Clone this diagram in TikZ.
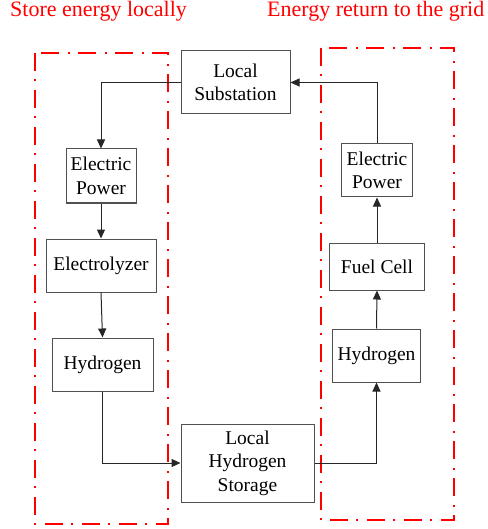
\documentclass[tikz,border=0pt]{standalone}
\usepackage{fontspec}
\setmainfont{Liberation Serif}
\usetikzlibrary{arrows.meta}
\definecolor{boxgray}{HTML}{505050}
\definecolor{zonered}{HTML}{FF0000}
\tikzset{
  blk/.style={draw=boxgray, line width=1pt, fill=white, align=center, inner sep=0pt,
    font=\fontsize{19.5}{23.5}\selectfont},
  arr/.style={draw=black!85, line width=1pt, -{Triangle[length=9pt,width=8pt]}},
  zone/.style={draw=zonered, line width=2.4pt, dash pattern=on 18pt off 8pt on 2pt off 9pt},
  ttl/.style={text=zonered, anchor=base west, inner sep=0pt, font=\fontsize{22}{26}\selectfont}
}
\begin{document}
\begin{tikzpicture}[x=1pt,y=-1pt]
\useasboundingbox (0,0) rectangle (487,529);
% zones
\draw[zone] (35,53) rectangle (168,524);
\draw[zone] (321,48) rectangle (454,520);
% titles
\node[ttl] (t1) at (10,17) {Store energy locally};
\node[ttl] (t2) at (267,17) {Energy return to the grid};
% boxes
\node[blk, minimum width=109pt, minimum height=63pt] (sub) at (235.5,82.5) {Local\\Substation};
\node[blk, minimum width=70pt, minimum height=54pt] (epL) at (101,176) {Electric\\Power};
\node[blk, minimum width=110pt, minimum height=53pt] (ely) at (101,265.5) {Electrolyzer};
\node[blk, minimum width=101pt, minimum height=53pt] (hyL) at (102.5,364.5) {Hydrogen};
\node[blk, minimum width=133pt, minimum height=78pt] (sto) at (247.5,463) {Local\\Hydrogen\\Storage};
\node[blk, minimum width=88pt, minimum height=53pt] (hyR) at (376.5,355.5) {Hydrogen};
\node[blk, minimum width=95pt, minimum height=47pt] (fc) at (377,266.5) {Fuel Cell};
\node[blk, minimum width=71pt, minimum height=53pt] (epR) at (377,170.5) {Electric\\Power};
% connectors
\draw[arr] (sub.west) -| (epL.north);
\draw[arr] (epL.south) -- (ely.north);
\draw[arr] (ely.south) -- (hyL.north);
\draw[arr] (hyL.south) |- (sto.west);
\draw[arr] (sto.east) -| (hyR.south);
\draw[arr] (hyR.north) -- (fc.south);
\draw[arr] (fc.north) -- (epR.south);
\draw[arr] (epR.north) |- (sub.east);
\end{tikzpicture}
\end{document}
